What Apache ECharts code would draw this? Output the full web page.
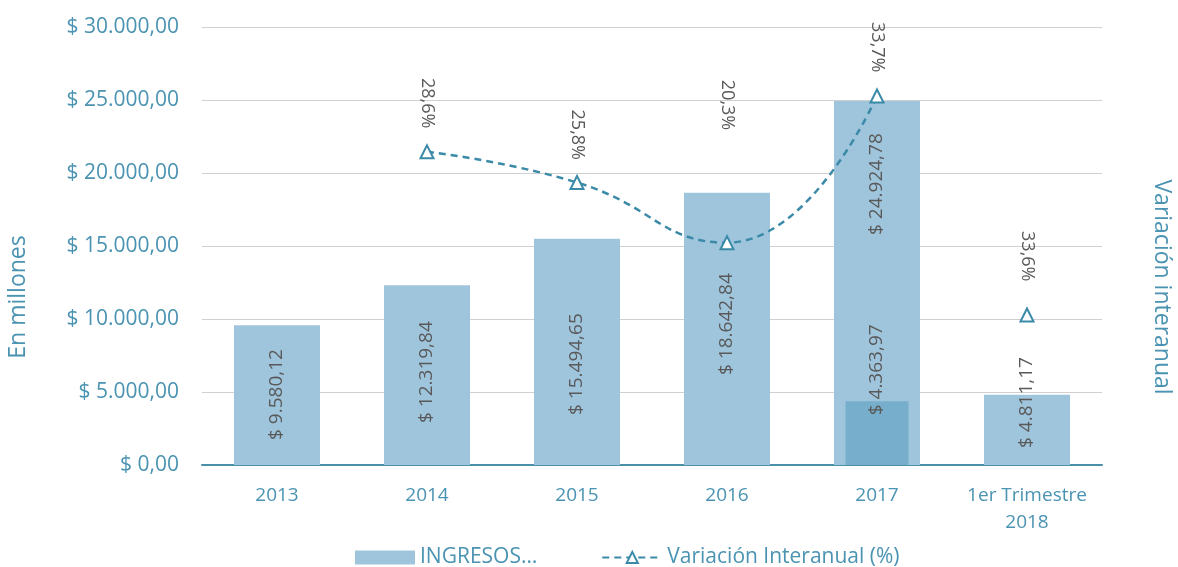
<!DOCTYPE html>
<html>
<head>
<meta charset="utf-8">
<script src="https://cdn.jsdelivr.net/npm/echarts@6/dist/echarts.min.js"></script>
<style>
  html, body { margin: 0; padding: 0; background: #fff; }
  #chart { width: 1178px; height: 567px; }
</style>
</head>
<body>
<div id="chart"></div>
<script>
// datos
var categorias = ['2013', '2014', '2015', '2016', '2017', '1er Trimestre\n2018'];
var ingresos = [9580.12, 12319.84, 15494.65, 18642.84, 24924.78, 4811.17];
var primerTrim2017 = [null, null, null, null, 4363.97, null];
var variacion = [null, 28.6, 25.8, 20.3, 33.7, 33.6];
// el punto del trimestre queda dibujado mas abajo en el original
var variacionTrimPlot = [null, null, null, null, null, 13.7];

var azul = '#4a93b2';
var gris = '#595959';

// etiquetas movidas a mano en el original (px)
var distEtiqBarra = [25, 42, 50, 90, 230, 17];
var distEtiqLinea = [0, 16, 15, 105, 16, 26];

function pesos(v) {
    var p = v.toFixed(2).split('.');
    var ent = p[0].replace(/\B(?=(\d{3})+(?!\d))/g, '.');
    return '$ ' + ent + ',' + p[1];
}
function pct(v) {
    return v.toFixed(1).replace('.', ',') + '%';
}

var chart = echarts.init(document.getElementById('chart'));

var option = {
    animation: false,
    textStyle: { fontFamily: 'Open Sans' },
    grid: { left: 202, right: 76, top: 27, bottom: 102, outerBoundsMode: 'none' },
    legend: {
        top: 542,
        left: 350,
        itemGap: 64,
        itemWidth: 60,
        itemHeight: 14,
        textStyle: { color: azul, fontSize: 21 },
        data: [
            { name: 'INGRESOS…', icon: 'rect' },
            { name: 'Variación Interanual (%)' }
        ]
    },
    xAxis: [{
        type: 'category',
        data: categorias,
        axisTick: { show: false },
        axisLine: { lineStyle: { color: '#4a90a8', width: 2 } },
        axisLabel: { color: azul, fontSize: 19, margin: 17, lineHeight: 27, interval: 0 }
    }, {
        type: 'category',
        data: categorias,
        show: false
    }],
    yAxis: [{
        type: 'value',
        min: 0,
        max: 30000,
        interval: 5000,
        name: 'En millones',
        nameLocation: 'middle',
        nameGap: 172,
        nameTextStyle: { color: azul, fontSize: 23, padding: [0, 102, 0, 0] },
        axisLabel: { color: azul, fontSize: 21, margin: 23, formatter: function (v) { return pesos(v); } },
        splitLine: { lineStyle: { color: '#d0d0d0', width: 1 } }
    }, {
        type: 'value',
        min: 0,
        max: 40,
        name: 'Variación interanual',
        nameLocation: 'middle',
        nameRotate: -90,
        nameGap: 48,
        nameTextStyle: { color: azul, fontSize: 23, padding: [0, 0, 0, 82] },
        axisLabel: { show: false },
        axisLine: { show: false },
        axisTick: { show: false },
        splitLine: { show: false }
    }],
    series: [{
        name: 'INGRESOS…',
        type: 'bar',
        data: ingresos.map(function (v, i) {
            return { value: v, label: { distance: distEtiqBarra[i] } };
        }),
        barWidth: 86,
        itemStyle: { color: '#9fc5dd' },
        label: {
            show: true,
            rotate: 90,
            position: 'insideBottom',
            align: 'left',
            verticalAlign: 'middle',
            color: gris,
            fontSize: 19,
            formatter: function (p) { return pesos(p.value); }
        }
    }, {
        name: 'INGRESOS…',
        type: 'bar',
        xAxisIndex: 1,
        data: primerTrim2017,
        barWidth: 63,
        itemStyle: { color: '#76aecb' },
        label: {
            show: true,
            rotate: 90,
            position: ['50%', 14],
            align: 'left',
            verticalAlign: 'middle',
            color: gris,
            fontSize: 19,
            formatter: function (p) { return pesos(p.value); }
        }
    }, {
        name: 'Variación Interanual (%)',
        type: 'line',
        yAxisIndex: 1,
        data: variacion.slice(0, 5).map(function (v, i) {
            return { value: v, label: { distance: distEtiqLinea[i] } };
        }),
        smooth: true,
        symbol: 'triangle',
        symbolSize: 13,
        itemStyle: { color: '#fff', borderColor: '#3a8aa8', borderWidth: 2 },
        lineStyle: { color: '#3a8aa8', width: 2.5, type: [7, 5] },
        label: {
            show: true,
            position: 'top',
            rotate: -90,
            align: 'right',
            verticalAlign: 'middle',
            color: gris,
            fontSize: 18,
            formatter: function (p) { return pct(p.value); }
        }
    }, {
        name: 'Variación Interanual (%)',
        type: 'line',
        yAxisIndex: 1,
        data: variacionTrimPlot.map(function (v, i) {
            return { value: v, label: { distance: distEtiqLinea[i] } };
        }),
        symbol: 'triangle',
        symbolSize: 13,
        itemStyle: { color: '#fff', borderColor: '#3a8aa8', borderWidth: 2 },
        lineStyle: { color: '#3a8aa8', width: 2.5, type: [7, 5] },
        label: {
            show: true,
            position: 'top',
            rotate: -90,
            align: 'right',
            verticalAlign: 'middle',
            color: gris,
            fontSize: 18,
            formatter: function (p) { return pct(variacion[p.dataIndex]); }
        }
    }]
};

chart.setOption(option);
</script>
</body>
</html>
